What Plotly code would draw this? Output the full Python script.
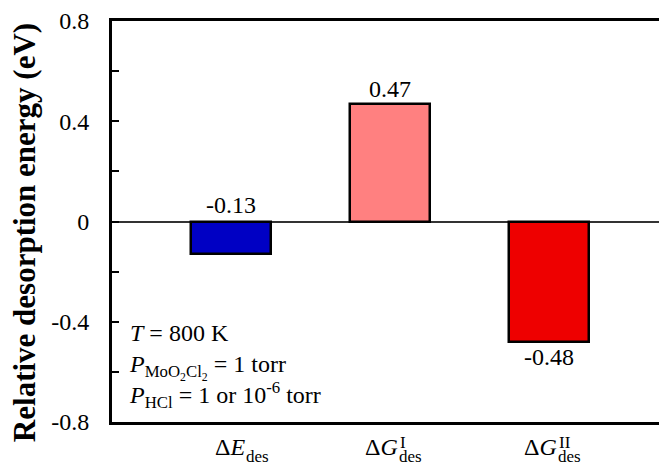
import plotly.graph_objects as go

categories = ["dE", "dG1", "dG2"]
values = [-0.13, 0.47, -0.48]
value_labels = ["-0.13", "0.47", "-0.48"]
bar_colors = ["#0000C4", "#FF8080", "#EE0000"]
main_labels = ["Δ<i>E</i>", "Δ<i>G</i>", "Δ<i>G</i>"]
sup_labels = ["", "I", "II"]
sub_labels = ["des", "des", "des"]
ytick_vals = [-0.8, -0.6, -0.4, -0.2, 0, 0.2, 0.4, 0.6, 0.8]
ytick_text = ["-0.8", "", "-0.4", "", "0", "", "0.4", "", "0.8"]

FONT = "Times New Roman, Liberation Serif, DejaVu Serif, serif"
x_idx = list(range(len(categories)))

# page body has an 8px default margin; figure is sized/placed to compensate
W, H = 659, 457
ML, MT, MB = 104, 13, 43
PW, PH = W - ML, H - MT - MB

fig = go.Figure()
fig.add_trace(go.Bar(
    x=x_idx, y=values, width=0.5,
    marker=dict(color=bar_colors, line=dict(color="black", width=2.5)),
    showlegend=False, hoverinfo="skip",
))

ann = []
# value labels
for i, v in enumerate(values):
    if v >= 0:
        ann.append(dict(x=i, y=v, text=value_labels[i], yanchor="bottom", yshift=0))
    elif v > -0.2:
        ann.append(dict(x=i, y=0, text=value_labels[i], yanchor="bottom", yshift=2))
    else:
        ann.append(dict(x=i, y=v, text=value_labels[i], yanchor="top", yshift=0))
for a in ann:
    a.update(xref="x", yref="y", showarrow=False, xanchor="center",
             font=dict(family=FONT, size=24, color="black"))

# category labels (stacked super/subscripts)
LAB_Y = -25 / PH
for i in x_idx:
    split = 0.10 if sup_labels[i] == "" else 0.06
    ann.append(dict(x=i + split, y=LAB_Y, xref="x", yref="paper", text=main_labels[i],
                    xanchor="right", yanchor="middle", showarrow=False,
                    font=dict(family=FONT, size=24, color="black")))
    ann.append(dict(x=i + split, y=LAB_Y, xref="x", yref="paper", text=sub_labels[i],
                    xanchor="left", yanchor="middle", yshift=-9, xshift=-3, showarrow=False,
                    font=dict(family=FONT, size=17, color="black")))
    if sup_labels[i]:
        ann.append(dict(x=i + split, y=LAB_Y, xref="x", yref="paper", text=sup_labels[i],
                        xanchor="left", yanchor="middle", yshift=5, xshift=-2, showarrow=False,
                        font=dict(family=FONT, size=17, color="black")))

# condition text
ann.append(dict(x=15 / PW, y=0.26, xref="paper", yref="paper", xanchor="left", yanchor="top",
                align="left", showarrow=False,
                text="<i>T</i> = 800 K<br><i>P</i><sub>MoO<sub>2</sub>Cl<sub>2</sub></sub> = 1 torr<br>"
                     "<i>P</i><sub>HCl</sub> = 1 or 10<sup>-6</sup> torr",
                font=dict(family=FONT, size=24, color="black")))

# y title
ann.append(dict(x=(16 - ML) / PW, y=0.471, xref="paper", yref="paper",
                text="<b>Relative desorption energy (eV)</b>", textangle=-90,
                showarrow=False, xanchor="center", yanchor="middle",
                font=dict(family=FONT, size=31, color="black")))

fig.update_layout(
    width=W, height=H,
    margin=dict(l=ML, r=0, t=MT, b=MB),
    plot_bgcolor="white", paper_bgcolor="white",
    annotations=ann,
    bargap=0,
    font=dict(family=FONT, size=24, color="black"),
)
fig.update_xaxes(range=[-0.748, 2.742], showticklabels=False, ticks="",
                 showgrid=False, zeroline=False, showline=True, mirror=True,
                 linecolor="black", linewidth=3)
fig.update_yaxes(range=[-0.8, 0.8], tickvals=ytick_vals, ticktext=ytick_text,
                 ticks="inside", ticklen=7, tickwidth=2, tickcolor="black",
                 showgrid=False, zeroline=True, zerolinecolor="#333", zerolinewidth=2,
                 showline=True, linecolor="black", linewidth=3, mirror=False,
                 ticklabelstandoff=15,
                 tickfont=dict(family=FONT, size=24, color="black"))
fig.add_shape(type="line", xref="paper", yref="paper", x0=0.998, x1=0.998, y0=0, y1=1,
              line=dict(color="#dddddd", width=1))

fig.write_html("out.html")
